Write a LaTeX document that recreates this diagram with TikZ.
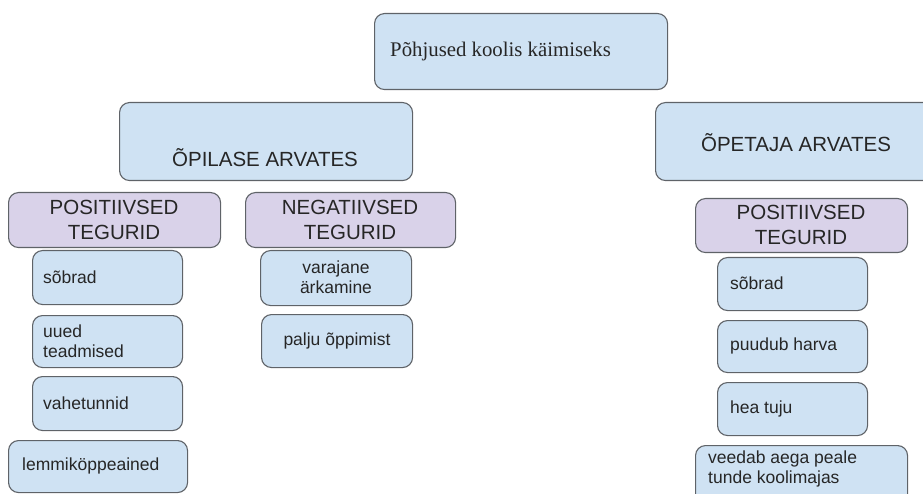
\documentclass[tikz,border=0pt]{standalone}
\usepackage{fontspec}
\setmainfont{Liberation Serif}
\setsansfont{Liberation Sans}
\definecolor{cardblue}{HTML}{CFE2F3}
\definecolor{cardlilac}{HTML}{D9D2E9}
\definecolor{cardline}{HTML}{5F6368}
\definecolor{inktext}{HTML}{262626}
\tikzset{
  card/.style={draw=cardline, line width=1.1pt, rounded corners=10pt,
    anchor=north west, inner sep=0pt},
  bluecard/.style={card, fill=cardblue},
  lilaccard/.style={card, fill=cardlilac},
  smalltext/.style={font=\sffamily\fontsize{17.5}{20}\selectfont, text=inktext, inner sep=0pt},
  bigtext/.style={font=\sffamily\fontsize{20.5}{25.5}\selectfont, text=inktext, inner sep=0pt, align=center},
  titletext/.style={font=\rmfamily\fontsize{20.8}{24}\selectfont, text=inktext, inner sep=0pt},
}
\begin{document}
\begin{tikzpicture}[x=1pt, y=-1pt]
\useasboundingbox (0,0) rectangle (923,494);

% main heading
\node[bluecard, minimum width=293pt, minimum height=76pt] (title) at (374,13) {};
\node[titletext, anchor=west] (titlet) at (390,52) {Põhjused koolis käimiseks};

% two opinion groups
\node[bluecard, minimum width=293pt, minimum height=78pt] (opil) at (119,102) {};
\node[bigtext] (opilt) at (265,158) {ÕPILASE ARVATES};
\node[bluecard, minimum width=290pt, minimum height=78pt] (opet) at (655,102) {};
\node[bigtext] (opett) at (796,143) {ÕPETAJA ARVATES};

% factor headers
\node[lilaccard, minimum width=212pt, minimum height=55pt] (lpos) at (8,192) {};
\node[bigtext] (lpost) at (114,220) {POSITIIVSED\\TEGURID};
\node[lilaccard, minimum width=210pt, minimum height=55pt] (neg) at (245,192) {};
\node[bigtext] (negt) at (350,220) {NEGATIIVSED\\TEGURID};
\node[lilaccard, minimum width=212pt, minimum height=54pt] (rpos) at (695,198) {};
\node[bigtext] (rpost) at (801,225) {POSITIIVSED\\TEGURID};

% pupils: positive
\node[bluecard, minimum width=150pt, minimum height=54pt] (ls1) at (32,250) {};
\node[smalltext, anchor=west] (ls1t) at (43,277) {sõbrad};
\node[bluecard, minimum width=150pt, minimum height=52pt] (ls2) at (32,315) {};
\node[smalltext, anchor=west, align=left] (ls2t) at (43,341) {uued\\teadmised};
\node[bluecard, minimum width=150pt, minimum height=54pt] (ls3) at (32,376) {};
\node[smalltext, anchor=west] (ls3t) at (43,403) {vahetunnid};
\node[bluecard, minimum width=179pt, minimum height=52pt] (ls4) at (8,440) {};
\node[smalltext, anchor=west] (ls4t) at (22,466) {lemmiköppeained};

% pupils: negative
\node[bluecard, minimum width=151pt, minimum height=55pt] (ng1) at (260,250) {};
\node[smalltext, align=center] (ng1t) at (336,277) {varajane\\ärkamine};
\node[bluecard, minimum width=151pt, minimum height=53pt] (ng2) at (261,314) {};
\node[smalltext] (ng2t) at (337,341) {palju õppimist};

% teachers: positive
\node[bluecard, minimum width=150pt, minimum height=53pt] (rs1) at (717,257) {};
\node[smalltext, anchor=west] (rs1t) at (730,283) {sõbrad};
\node[bluecard, minimum width=150pt, minimum height=52pt] (rs2) at (717,320) {};
\node[smalltext, anchor=west] (rs2t) at (730,346) {puudub harva};
\node[bluecard, minimum width=150pt, minimum height=53pt] (rs3) at (717,382) {};
\node[smalltext, anchor=west] (rs3t) at (730,409) {hea tuju};
\node[bluecard, minimum width=212pt, minimum height=70pt] (rs4) at (695,445) {};
\node[smalltext, anchor=north west, align=left] (rs4t) at (708,451) {veedab aega peale\\tunde koolimajas};
\end{tikzpicture}
\end{document}
